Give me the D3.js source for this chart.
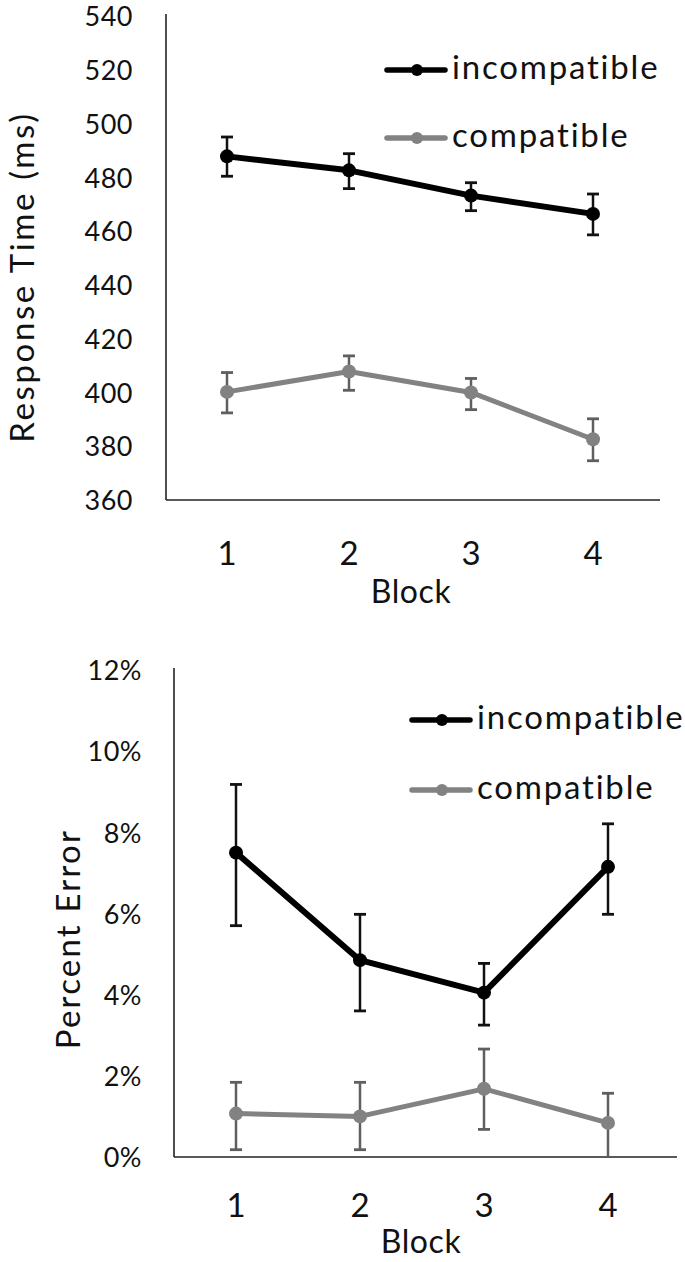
<!DOCTYPE html>
<html><head><meta charset="utf-8">
<script src="https://cdn.jsdelivr.net/npm/d3@7"></script>
<style>body{margin:0;background:#fff}svg{display:block}text{font-family:Lato,"Open Sans",sans-serif;fill:#111}</style>
</head><body>
<script>
const blocks = ["1","2","3","4"];
const seriesNames = ["incompatible","compatible"];
// Top chart: response time (ms)
const rtIncompatible = [487.8, 482.6, 473.2, 466.4];
const rtIncompatibleLow = [480.4, 475.8, 467.6, 458.6];
const rtIncompatibleHigh = [495.0, 488.8, 478.0, 473.8];
const rtCompatible = [400.2, 407.8, 400.0, 382.6];
const rtCompatibleLow = [392.4, 400.8, 393.6, 374.6];
const rtCompatibleHigh = [407.4, 413.6, 405.2, 390.2];
const rtTicks = [360, 380, 400, 420, 440, 460, 480, 500, 520, 540];
// Bottom chart: percent error
const peIncompatible = [7.5, 4.85, 4.05, 7.15];
const peIncompatibleLow = [5.7, 3.6, 3.25, 5.98];
const peIncompatibleHigh = [9.18, 5.98, 4.77, 8.21];
const peCompatible = [1.07, 1.0, 1.68, 0.84];
const peCompatibleLow = [0.18, 0.18, 0.68, -0.3];
const peCompatibleHigh = [1.84, 1.84, 2.66, 1.57];
const peTicks = [0, 2, 4, 6, 8, 10, 12];

const colors = {incompatible: "#000000", compatible: "#828282"};
const errColors = {incompatible: "#111111", compatible: "#5f5f5f"};
const widths = {incompatible: 6, compatible: 5};

const svg = d3.select("body").append("svg").attr("width", 685).attr("height", 1262);

function drawChart(o) {
  const g = svg.append("g");
  const x = d3.scaleBand().domain(blocks).range([o.left, o.right]);
  const y = d3.scaleLinear().domain(o.domain).range([o.bottom, o.top]);
  const cx = d => x(d) + x.bandwidth() / 2;
  const clipId = "clip" + o.id;
  svg.append("clipPath").attr("id", clipId).append("rect")
    .attr("x", o.left).attr("y", o.top - 20).attr("width", o.right - o.left + 20).attr("height", o.bottom - o.top + 20);

  // y tick labels
  const yAxis = d3.axisLeft(y).tickValues(o.ticks).tickSize(0).tickPadding(o.left - o.tickRight).tickFormat(o.fmt);
  const ya = g.append("g").attr("transform", `translate(${o.left},0)`).call(yAxis);
  ya.select(".domain").remove();
  ya.selectAll("text").style("font-size", "27px").style("letter-spacing", "0.5px").attr("fill", "#111").attr("dy", "0.36em");
  // x tick labels
  const xAxis = d3.axisBottom(x).tickSize(0);
  const xa = g.append("g").attr("transform", `translate(0,${o.bottom})`).call(xAxis);
  xa.select(".domain").remove();
  xa.selectAll("text").style("font-size", "33px").attr("fill", "#111").attr("y", o.xLabelBase).attr("dy", 0);

  // axis lines
  g.append("line").attr("x1", o.left).attr("x2", o.left).attr("y1", o.top - 2).attr("y2", o.bottom)
    .attr("stroke", "#222").attr("stroke-width", 1.6);
  g.append("line").attr("x1", o.left).attr("x2", o.axisEnd).attr("y1", o.bottom).attr("y2", o.bottom)
    .attr("stroke", "#222").attr("stroke-width", 1.6);

  // titles
  g.append("text").attr("transform", `translate(${o.yTitleX},${o.yTitleY}) rotate(-90)`)
    .attr("text-anchor", "middle").style("font-size", "33px").style("letter-spacing", o.yTitleSpacing + "px").text(o.yTitle);
  g.append("text").attr("x", o.xTitleX).attr("y", o.xTitleY)
    .attr("text-anchor", "middle").style("font-size", "32px").style("letter-spacing", "0.6px").text("Block");

  const line = d3.line().x((d, i) => cx(blocks[i])).y(d => y(d));
  const plot = g.append("g").attr("clip-path", `url(#${clipId})`);
  // draw compatible first, incompatible on top
  o.series.slice().reverse().forEach(s => {
    s.values.forEach((v, i) => {
      const xx = cx(blocks[i]);
      plot.append("line").attr("x1", xx).attr("x2", xx).attr("y1", y(s.low[i])).attr("y2", y(s.high[i]))
        .attr("stroke", errColors[s.name]).attr("stroke-width", 2.5);
      [s.low[i], s.high[i]].forEach(b => {
        plot.append("line").attr("x1", xx - 6).attr("x2", xx + 6).attr("y1", y(b)).attr("y2", y(b))
          .attr("stroke", errColors[s.name]).attr("stroke-width", 2.8);
      });
    });
    plot.append("path").datum(s.values).attr("d", line).attr("fill", "none")
      .attr("stroke", colors[s.name]).attr("stroke-width", widths[s.name]).attr("stroke-linejoin", "round");
    plot.selectAll(null).data(s.values).enter().append("circle")
      .attr("cx", (d, i) => cx(blocks[i])).attr("cy", d => y(d)).attr("r", 7).attr("fill", colors[s.name]);
  });

  // legend
  o.series.forEach((s, i) => {
    const ly = o.legendY + i * o.legendGap;
    g.append("line").attr("x1", o.legendX).attr("x2", o.legendX + 58).attr("y1", ly).attr("y2", ly)
      .attr("stroke", colors[s.name]).attr("stroke-width", 5.5).attr("stroke-linecap", "round");
    g.append("circle").attr("cx", o.legendX + 30).attr("cy", ly).attr("r", 6).attr("fill", colors[s.name]);
    g.append("text").attr("x", o.legendX + 65).attr("y", ly).attr("dy", "0.26em")
      .style("font-size", "33px").style("letter-spacing", "1.8px").text(s.name);
  });
}

drawChart({
  id: "rt", left: 166, right: 654, axisEnd: 660, top: 16, bottom: 500, domain: [360, 540],
  ticks: rtTicks, fmt: d3.format("d"), tickRight: 133, xLabelBase: 65, xTitleX: 411, xTitleY: 603,
  yTitle: "Response Time (ms)", yTitleX: 34, yTitleY: 277, yTitleSpacing: 2.6,
  legendX: 387, legendY: 70, legendGap: 68,
  series: [
    {name: seriesNames[0], values: rtIncompatible, low: rtIncompatibleLow, high: rtIncompatibleHigh},
    {name: seriesNames[1], values: rtCompatible, low: rtCompatibleLow, high: rtCompatibleHigh}
  ]
});

drawChart({
  id: "pe", left: 174, right: 670, axisEnd: 677, top: 670, bottom: 1157, domain: [0, 12],
  ticks: peTicks, fmt: d => d + "%", tickRight: 142, xLabelBase: 60, xTitleX: 421, xTitleY: 1253,
  yTitle: "Percent Error", yTitleX: 80, yTitleY: 939, yTitleSpacing: 2.2,
  legendX: 412, legendY: 720, legendGap: 70,
  series: [
    {name: seriesNames[0], values: peIncompatible, low: peIncompatibleLow, high: peIncompatibleHigh},
    {name: seriesNames[1], values: peCompatible, low: peCompatibleLow, high: peCompatibleHigh}
  ]
});
</script>
</body></html>
